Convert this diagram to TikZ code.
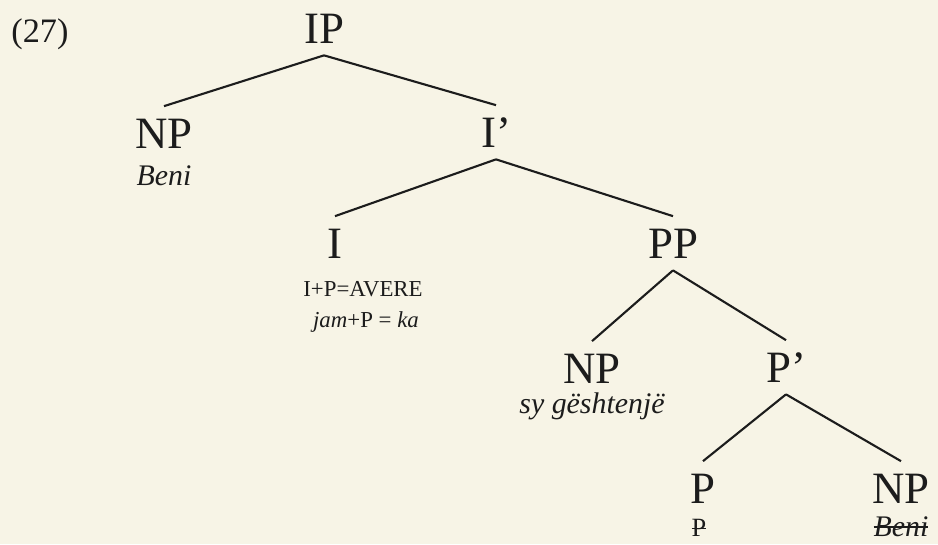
\documentclass[tikz,border=0pt]{standalone}
\usepackage{fontspec}
\setmainfont{Liberation Serif}
\usepackage{tikz}
\usetikzlibrary{positioning}
\definecolor{paper}{HTML}{F7F4E6}
\definecolor{ink}{HTML}{1C1C1C}
\newcommand\glossfont{\fontsize{17}{19}\selectfont\itshape}
\newcommand\struck[1]{\setbox0\hbox{#1}\rlap{\rule[0.28em]{\wd0}{0.06em}}\box0}

\begin{document}
\begin{tikzpicture}[
  cat/.style={inner sep=0pt,anchor=base,text height=0.83cm,text depth=0.24cm,
    font=\fontsize{25.5}{28}\selectfont,text=ink},
  gloss/.style={inner sep=0pt,anchor=base,font=\glossfont,text=ink},
  feat/.style={inner sep=0pt,anchor=base,font=\fontsize{13}{15}\selectfont,text=ink},
  branch/.style={draw=ink,line width=1.2pt}
]
  \fill[paper] (0,0) rectangle (18.76,-10.88);
  \useasboundingbox (0,0) rectangle (18.76,-10.88);

  \node[inner sep=0pt,anchor=base,font=\fontsize{19.5}{22}\selectfont,text=ink] (ex) at (0.8,-0.84) {(27)};

  \node[cat] (ip) at (6.48,-0.86) {IP};
  \node[cat] (np1) at (3.28,-2.96) {NP};
  \node[gloss] (beni1) at ([yshift=-0.74cm]np1.base) {Beni};
  \node[cat] (ibar) at (9.92,-2.94) {I'};
  \node[cat] (i) at (6.70,-5.16) {I};
  \node[feat] (avere) at (7.26,-5.92) {I+P=AVERE};
  \node[feat] (ka) at (7.32,-6.54) {\textit{jam}+P = \textit{ka}};
  \node[cat] (pp) at (13.46,-5.16) {PP};
  \node[cat] (np2) at (11.84,-7.66) {NP};
  \node[gloss] (eyes) at ([yshift=-0.6cm]np2.base) {sy gështenjë};
  \node[cat] (pbar) at (15.72,-7.64) {P'};
  \node[cat] (p) at (14.06,-10.06) {P};
  \node[feat] (pdel) at ([xshift=-0.08cm,yshift=-0.67cm]p.base) {\fontsize{15}{17}\selectfont\struck{P}};
  \node[cat] (np3) at (18.02,-10.06) {NP};
  \node[gloss] (beni2) at ([yshift=-0.66cm]np3.base) {\struck{Beni}};

  \draw[branch] (ip.south) -- (np1.north);
  \draw[branch] (ip.south) -- (ibar.north);
  \draw[branch] (ibar.south) -- (i.north);
  \draw[branch] (ibar.south) -- (pp.north);
  \draw[branch] (pp.south) -- (np2.north);
  \draw[branch] (pp.south) -- (pbar.north);
  \draw[branch] (pbar.south) -- (p.north);
  \draw[branch] (pbar.south) -- (np3.north);
\end{tikzpicture}
\end{document}
